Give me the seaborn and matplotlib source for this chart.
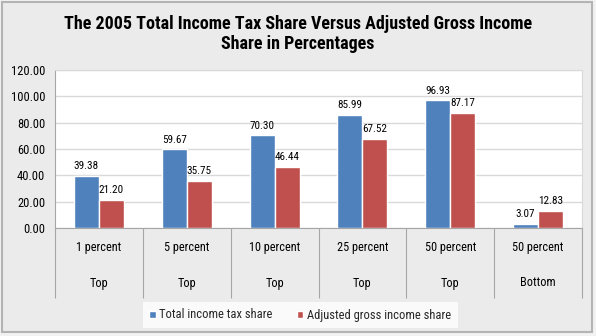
import matplotlib
matplotlib.use("Agg")
import matplotlib.pyplot as plt
import matplotlib.patches as mpatches
import matplotlib.transforms as mtransforms
import seaborn as sns
import pandas as pd
import numpy as np

categories = ["1 percent", "5 percent", "10 percent", "25 percent", "50 percent", "50 percent"]
groups = ["Top", "Top", "Top", "Top", "Top", "Bottom"]
tax_share = [39.38, 59.67, 70.30, 85.99, 96.93, 3.07]
agi_share = [21.20, 35.75, 46.44, 67.52, 87.17, 12.83]
series_names = ["Total income tax share", "Adjusted gross income share"]
title = "The 2005 Total Income Tax Share Versus Adjusted Gross Income\nShare in Percentages"

keys = [f"{g} {c}" for c, g in zip(categories, groups)]
df = pd.DataFrame({
    "key": keys * 2,
    "value": tax_share + agi_share,
    "series": [series_names[0]] * len(keys) + [series_names[1]] * len(keys),
})

sns.set_theme(style="white")
FONT = ["Roboto Condensed", "Archivo Narrow", "DejaVu Sans"]
plt.rcParams["font.family"] = FONT

fig = plt.figure(figsize=(5.96, 3.36), dpi=100)
fig.patch.set_facecolor("#F2F2F2")
# chart area (inner panel) with border
fig.patches.append(mpatches.Rectangle((1.5 / 596, 4 / 336), 590.5 / 596, 330 / 336,
                                      transform=fig.transFigure, facecolor="#EBEBEB",
                                      edgecolor="#B4B4B4", linewidth=1.5, zorder=-10))

ax = fig.add_axes([55 / 596, 1 - 228 / 336, (582 - 55) / 596, (228 - 70) / 336])
ax.set_zorder(1)
ax.set_facecolor("white")

sns.barplot(data=df, x="key", y="value", hue="series", order=keys,
            hue_order=series_names, palette=["#4F81BD", "#C0504D"],
            width=0.57, gap=0, saturation=1, ax=ax, legend=True)

for cont in ax.containers:
    ax.bar_label(cont, fmt="%.2f", padding=3.5, fontsize=8, color="#000000")

ax.set_ylim(0, 120)
ax.set_yticks(np.arange(0, 121, 20))
ax.set_yticklabels([f"{v:.2f}" for v in np.arange(0, 121, 20)], fontsize=9, color="#000000")
ax.yaxis.grid(True, color="#D9D9D9", linewidth=1)
ax.set_axisbelow(True)
ax.set_xlim(-0.5, len(keys) - 0.5)
ax.set_xlabel("")
ax.set_ylabel("")
ax.tick_params(axis="y", length=0, pad=7)

# category separators as long minor ticks
ax.set_xticks(np.arange(len(keys)))
ax.set_xticklabels([""] * len(keys))
ax.set_xticks(np.arange(-0.5, len(keys), 1.0), minor=True)
ax.tick_params(axis="x", which="major", length=0)
ax.tick_params(axis="x", which="minor", length=50.5, width=0.8, color="#A6A6A6", direction="out", bottom=True)

trans = mtransforms.blended_transform_factory(ax.transData, ax.transAxes)
for i, (c, g) in enumerate(zip(categories, groups)):
    ax.text(i, -20 / 158, c, transform=trans, ha="center", va="center", fontsize=8.8, color="#000000")
    ax.text(i, -55 / 158, g, transform=trans, ha="center", va="center", fontsize=8.8, color="#000000")

for s in ["top", "right"]:
    ax.spines[s].set_color("#D9D9D9")
    ax.spines[s].set_linewidth(0.8)
for s in ["left", "bottom"]:
    ax.spines[s].set_color("#A6A6A6")
    ax.spines[s].set_linewidth(0.8)

leg = ax.legend(loc="center", bbox_to_anchor=(300 / 596, 1 - 315 / 336),
                bbox_transform=fig.transFigure, ncol=2, frameon=True,
                fontsize=9, handlelength=0.5, handleheight=0.5,
                handletextpad=0.25, columnspacing=2.0, borderpad=0.55,
                borderaxespad=0, fancybox=False)
leg.get_frame().set_facecolor("white")
leg.get_frame().set_edgecolor("white")
leg.get_frame().set_linewidth(0)

fig.text(0.5, 1 - 34 / 336, title, ha="center", va="center", fontsize=13,
         fontweight="bold", linespacing=1.2, color="#000000")

fig.savefig("out.png", dpi=100, facecolor=fig.get_facecolor())
